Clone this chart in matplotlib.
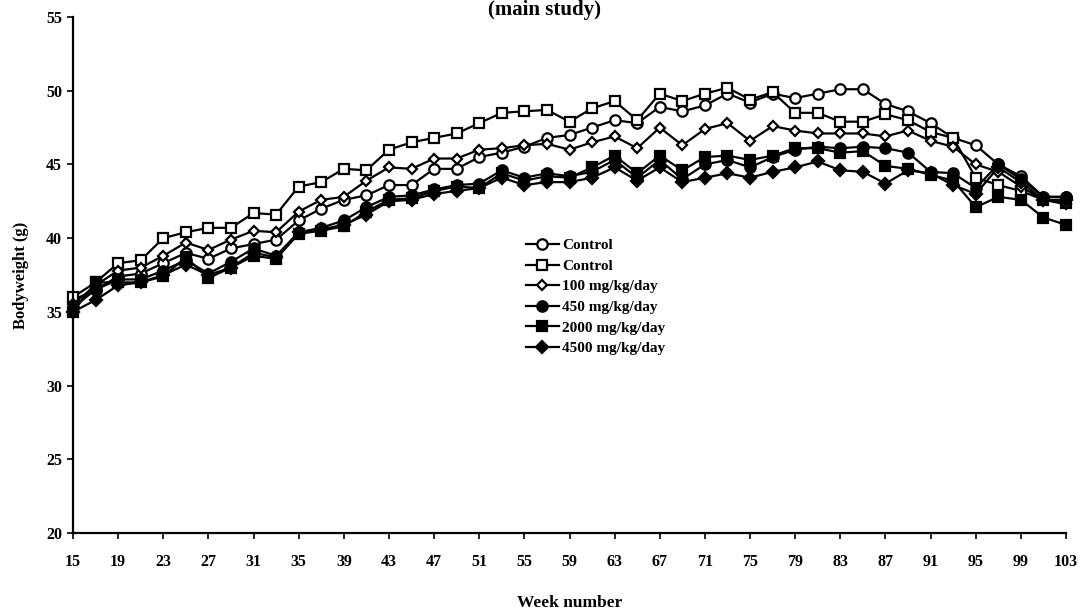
import numpy as np
import matplotlib
matplotlib.use("Agg")
import matplotlib.pyplot as plt

weeks = list(range(15, 104, 2))

control_1 = [35.8, 36.5, 37.4, 37.6, 38.3, 39.0, 38.6, 39.3, 39.6, 39.9,
             41.2, 42.0, 42.6, 42.9, 43.6, 43.6, 44.7, 44.7, 45.5, 45.8,
             46.2, 46.8, 47.0, 47.5, 48.0, 47.8, 48.9, 48.6, 49.0, 49.8,
             49.2, 49.8, 49.5, 49.8, 50.1, 50.1, 49.1, 48.6, 47.8, 46.8,
             46.3, 45.0, 44.2, 42.8, 42.8]
control_2 = [36.0, 37.0, 38.3, 38.5, 40.0, 40.4, 40.7, 40.7, 41.7, 41.6,
             43.5, 43.8, 44.7, 44.6, 46.0, 46.5, 46.8, 47.1, 47.8, 48.5,
             48.6, 48.7, 47.9, 48.8, 49.3, 48.0, 49.8, 49.3, 49.8, 50.2,
             49.4, 49.9, 48.5, 48.5, 47.9, 47.9, 48.4, 48.0, 47.2, 46.8,
             44.1, 43.6, 43.2, 42.6, 42.4]
dose_100 = [35.5, 36.8, 37.8, 38.0, 38.8, 39.7, 39.2, 39.9, 40.5, 40.4,
            41.8, 42.6, 42.8, 43.9, 44.8, 44.7, 45.4, 45.4, 46.0, 46.1,
            46.3, 46.4, 46.0, 46.5, 46.9, 46.1, 47.5, 46.3, 47.4, 47.8,
            46.6, 47.6, 47.3, 47.1, 47.1, 47.1, 46.9, 47.3, 46.6, 46.2,
            45.0, 44.5, 43.5, 42.6, 42.3]
dose_450 = [35.3, 36.5, 37.2, 37.2, 37.8, 38.5, 37.6, 38.4, 39.3, 38.8,
            40.4, 40.7, 41.2, 42.1, 42.8, 42.9, 43.3, 43.6, 43.7, 44.6,
            44.1, 44.4, 44.2, 44.5, 45.3, 44.1, 45.3, 44.0, 45.0, 45.3,
            44.8, 45.5, 46.0, 46.2, 46.1, 46.2, 46.1, 45.8, 44.5, 44.4,
            43.4, 45.0, 44.0, 42.8, 42.8]
dose_2000 = [35.0, 37.0, 37.0, 37.0, 37.4, 38.7, 37.3, 38.0, 38.8, 38.6,
             40.3, 40.5, 40.8, 41.8, 42.6, 42.7, 43.2, 43.5, 43.4, 44.4,
             43.9, 44.2, 44.1, 44.8, 45.6, 44.4, 45.6, 44.6, 45.5, 45.6,
             45.3, 45.6, 46.1, 46.1, 45.8, 45.9, 44.9, 44.7, 44.3, 43.9,
             42.1, 42.8, 42.6, 41.4, 40.9]
dose_4500 = [35.0, 35.8, 36.8, 37.0, 37.5, 38.2, 37.5, 38.0, 39.0, 38.7,
             40.4, 40.6, 40.9, 41.6, 42.5, 42.6, 43.0, 43.2, 43.4, 44.1,
             43.6, 43.8, 43.8, 44.1, 44.8, 43.9, 44.8, 43.8, 44.1, 44.4,
             44.1, 44.5, 44.8, 45.2, 44.6, 44.5, 43.7, 44.6, 44.4, 43.6,
             43.0, 44.8, 43.8, 42.6, 42.6]

labels = ["Control", "Control", "100 mg/kg/day", "450 mg/kg/day",
          "2000 mg/kg/day", "4500 mg/kg/day"]
x_ticks = list(range(15, 104, 4))
y_ticks = list(range(20, 56, 5))

plt.rcParams["font.family"] = ["Liberation Serif", "DejaVu Serif"]
plt.rcParams["font.weight"] = "bold"

fig = plt.figure(figsize=(10.89, 6.13), dpi=100)
ax = fig.add_axes([73 / 1089, 1 - 533 / 613, (1066 - 73) / 1089, (533 - 17) / 613])

styles = [
    dict(marker="o", ms=7.5, mfc="white"),
    dict(marker="s", ms=7.5, mfc="white"),
    dict(marker="D", ms=5, mfc="white"),
    dict(marker="o", ms=7.5, mfc="black"),
    dict(marker="s", ms=7.5, mfc="black"),
    dict(marker="D", ms=6, mfc="black"),
]
series = [control_1, control_2, dose_100, dose_450, dose_2000, dose_4500]
for vals, lab, st in zip(series, labels, styles):
    ax.plot(weeks, vals, color="black", lw=1.6, mec="black", mew=1.6,
            label=lab, clip_on=False, **st)

ax.set_xlim(15, 103)
ax.set_ylim(20, 55)
ax.set_xticks(x_ticks)
ax.set_yticks(y_ticks)
ax.spines["top"].set_visible(False)
ax.spines["right"].set_visible(False)
ax.spines["left"].set_linewidth(1.6)
ax.spines["bottom"].set_linewidth(1.6)
ax.tick_params(axis="x", direction="out", length=4, width=1.2, pad=11, labelsize=11.5)
ax.tick_params(axis="y", direction="out", length=4, width=1.2, pad=4, labelsize=11.5)

ax.set_xlabel("Week number", fontsize=12.5, fontweight="bold", labelpad=18)
ax.set_ylabel("Bodyweight (g)", fontsize=12, fontweight="bold", labelpad=12)

fig.text(0.5, 1 - 10 / 613, "(main study)", ha="center", va="center",
         fontsize=15, fontweight="bold")

fig.legend(loc="upper left", bbox_to_anchor=(518 / 1089, 1 - 231 / 613),
           bbox_transform=fig.transFigure, frameon=False, fontsize=11,
           handlelength=2.2, handletextpad=0.2, labelspacing=0.45,
           borderpad=0)

fig.savefig("out.png", dpi=100)
